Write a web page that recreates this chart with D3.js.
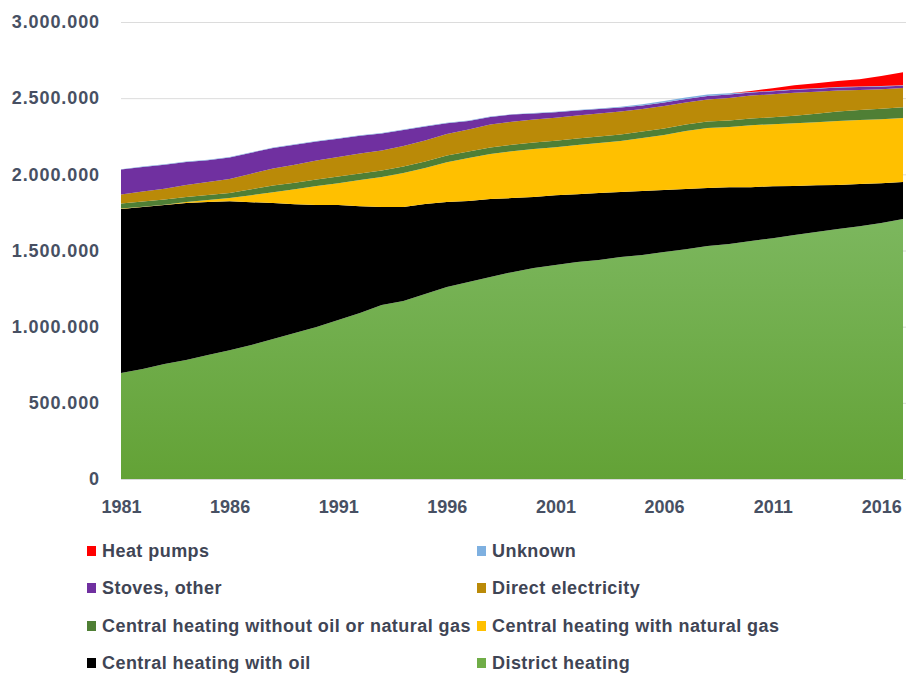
<!DOCTYPE html>
<html>
<head>
<meta charset="utf-8">
<script src="https://cdn.jsdelivr.net/npm/d3@7/dist/d3.min.js"></script>
<style>
  body { margin: 0; background: #ffffff; }
  svg { display: block; }
  text { font-family: "Liberation Sans", Arial, sans-serif; font-weight: bold; }
</style>
</head>
<body>
<svg id="chart" width="908" height="673"></svg>
<script>
// Dwellings by primary heating source, 1981–2017
const years = [1981,1982,1983,1984,1985,1986,1987,1988,1989,1990,
               1991,1992,1993,1994,1995,1996,1997,1998,1999,2000,
               2001,2002,2003,2004,2005,2006,2007,2008,2009,2010,
               2011,2012,2013,2014,2015,2016,2017];

// values in thousands of dwellings
const districtHeating = [696,722,755,781,814,846,879,919,958,997,
                         1043,1089,1142,1168,1214,1260,1293,1326,1358,1385,
                         1404,1424,1437,1457,1470,1490,1509,1529,1542,1562,
                         1581,1601,1621,1641,1660,1680,1706];
const centralOil = [1076,1063,1043,1030,1004,978,938,892,846,801,
                    755,702,643,617,591,558,532,512,486,466,
                    459,446,440,427,420,407,394,381,374,354,
                    341,322,308,289,276,262,243];
const centralGas = [3,3,3,7,13,20,46,72,98,125,
                    144,171,197,223,236,262,282,295,308,315,
                    315,322,328,335,348,361,381,394,394,407,
                    407,413,413,420,420,420,420];
const centralOther = [33,33,33,33,33,33,39,43,43,43,
                      43,43,43,43,43,43,43,43,43,43,
                      43,43,43,43,43,43,43,43,43,43,
                      46,49,56,62,66,69,72];
const directElectricity = [59,66,72,79,85,92,102,112,118,125,
                           128,131,131,135,138,141,144,151,151,151,
                           151,151,151,151,148,148,144,144,148,151,
                           151,151,144,138,131,128,125];
const stovesOther = [164,161,157,151,144,141,138,135,131,125,
                     121,118,112,105,92,72,56,49,46,39,
                     36,33,30,26,23,23,23,23,23,20,
                     20,20,20,20,20,18,16];
const unknown = [3,3,3,3,3,3,3,3,3,3,
                 3,3,3,3,3,3,3,3,3,3,
                 3,3,3,5,8,10,10,10,8,3,
                 3,3,3,3,3,3,3];
const heatPumps = [0,0,0,0,0,0,0,0,0,0,
                   0,0,0,0,0,0,0,0,0,0,
                   0,0,0,0,0,0,0,0,0,7,
                   16,26,33,39,49,66,85];

const yTicks = [0, 500000, 1000000, 1500000, 2000000, 2500000, 3000000];
const yTickLabels = ["0", "500.000", "1.000.000", "1.500.000", "2.000.000", "2.500.000", "3.000.000"];
const xTickYears = [1981, 1986, 1991, 1996, 2001, 2006, 2011, 2016];
const xTickLabels = ["1981", "1986", "1991", "1996", "2001", "2006", "2011", "2016"];

// stacking order, bottom to top
const series = [
  { key: "district", name: "District heating", values: districtHeating, color: "#70AD47" },
  { key: "oil", name: "Central heating with oil", values: centralOil, color: "#000000" },
  { key: "gas", name: "Central heating with natural gas", values: centralGas, color: "#FFC000" },
  { key: "other", name: "Central heating without oil or natural gas", values: centralOther, color: "#4F7F35" },
  { key: "elec", name: "Direct electricity", values: directElectricity, color: "#BA8A08" },
  { key: "stoves", name: "Stoves, other", values: stovesOther, color: "#7030A0" },
  { key: "unknown", name: "Unknown", values: unknown, color: "#7EB0E0" },
  { key: "pumps", name: "Heat pumps", values: heatPumps, color: "#FF0000" }
];

// legend rows (two columns), top series first
const legendRows = [
  ["pumps", "unknown"],
  ["stoves", "elec"],
  ["other", "gas"],
  ["oil", "district"]
];

const rows = years.map((yr, i) => {
  const r = { year: yr };
  series.forEach(s => { r[s.key] = s.values[i] * 1000; });
  return r;
});

const svg = d3.select("#chart");
const plot = { left: 121, right: 903, top: 22, bottom: 479 };

const x = d3.scalePoint().domain(years).range([plot.left, plot.right]);
const y = d3.scaleLinear().domain([0, 3000000]).range([plot.bottom, plot.top]);

const stack = d3.stack().keys(series.map(s => s.key));
const layers = stack(rows);

// gridlines
svg.append("g")
  .attr("transform", `translate(${plot.left},0)`)
  .call(d3.axisLeft(y).tickValues(yTicks).tickSize(-(906 - plot.left)).tickFormat(""))
  .call(g => g.select(".domain").remove())
  .call(g => g.selectAll("line").attr("stroke", "#DCDCDC").attr("stroke-width", 1));

// subtle shading on the district heating band
const defs = svg.append("defs");
const grad = defs.append("linearGradient")
  .attr("id", "districtFill").attr("x1", 0).attr("y1", 0).attr("x2", 0).attr("y2", 1);
grad.append("stop").attr("offset", "0%").attr("stop-color", "#7CB75E");
grad.append("stop").attr("offset", "100%").attr("stop-color", "#63A236");

const area = d3.area()
  .x(d => x(d.data.year))
  .y0(d => y(d[0]))
  .y1(d => y(d[1]));

svg.append("g").selectAll("path")
  .data(layers)
  .join("path")
  .attr("d", area)
  .attr("fill", (d, i) => series[i].key === "district" ? "url(#districtFill)" : series[i].color);

// baseline
svg.append("line")
  .attr("x1", plot.left).attr("x2", 906)
  .attr("y1", y(0) + 0.5).attr("y2", y(0) + 0.5)
  .attr("stroke", "#D9D9D9");

// y axis labels
svg.append("g")
  .attr("transform", `translate(${plot.left},0)`)
  .call(d3.axisLeft(y).tickValues(yTicks).tickSize(0).tickPadding(21)
    .tickFormat((d, i) => yTickLabels[i]))
  .call(g => g.select(".domain").remove())
  .call(g => g.selectAll("text")
    .attr("fill", "#475063")
    .style("font-size", "18px")
    .style("letter-spacing", "0.9px")
    .style("font-family", "'Liberation Sans', Arial, sans-serif"));

// x axis labels
svg.append("g")
  .attr("transform", `translate(0,${plot.bottom})`)
  .call(d3.axisBottom(x).tickValues(xTickYears).tickSize(0).tickPadding(21)
    .tickFormat((d, i) => xTickLabels[i]))
  .call(g => g.select(".domain").remove())
  .call(g => g.selectAll("text")
    .attr("fill", "#475063")
    .style("font-size", "18px")
    .style("font-family", "'Liberation Sans', Arial, sans-serif"));

// legend
const byKey = Object.fromEntries(series.map(s => [s.key, s]));
const legendCols = [87, 477];
const legendRowY = [551, 588, 626, 663];
const legend = svg.append("g");
legendRows.forEach((pair, r) => {
  pair.forEach((key, c) => {
    const s = byKey[key];
    const g = legend.append("g")
      .attr("transform", `translate(${legendCols[c]},${legendRowY[r]})`);
    g.append("rect")
      .attr("x", 0).attr("y", -5).attr("width", 9).attr("height", 10)
      .attr("fill", s.color);
    g.append("text")
      .attr("x", 15).attr("y", 0).attr("dy", "0.36em")
      .attr("fill", "#3F4555")
      .style("font-size", "18px")
      .style("letter-spacing", "0.45px")
      .text(s.name);
  });
});
</script>
</body>
</html>
